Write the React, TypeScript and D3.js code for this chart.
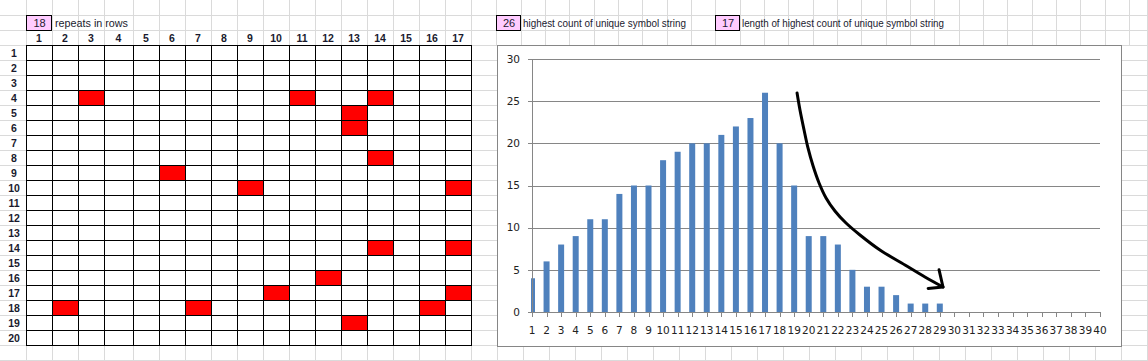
import React from 'react';
import * as d3 from 'd3';

// ---------- DATA ----------
const repeatCells: [number, number][] = [
  [4, 3], [4, 11], [4, 14], [5, 13], [6, 13], [8, 14], [9, 6], [10, 9], [10, 17],
  [14, 14], [14, 17], [16, 12], [17, 10], [17, 17], [18, 2], [18, 7], [18, 16], [19, 13],
];
const gridRowLabels = [1, 2, 3, 4, 5, 6, 7, 8, 9, 10, 11, 12, 13, 14, 15, 16, 17, 18, 19, 20];
const gridColLabels = [1, 2, 3, 4, 5, 6, 7, 8, 9, 10, 11, 12, 13, 14, 15, 16, 17];
const categories = [1, 2, 3, 4, 5, 6, 7, 8, 9, 10, 11, 12, 13, 14, 15, 16, 17, 18, 19, 20,
  21, 22, 23, 24, 25, 26, 27, 28, 29, 30, 31, 32, 33, 34, 35, 36, 37, 38, 39, 40];
const counts = [4, 6, 8, 9, 11, 11, 14, 15, 15, 18, 19, 20, 20, 21, 22, 23, 26, 20, 15, 9,
  9, 8, 5, 3, 3, 2, 1, 1, 1, 0, 0, 0, 0, 0, 0, 0, 0, 0, 0, 0];
const yTicks = [0, 5, 10, 15, 20, 25, 30];
// hand-drawn arrow annotation, in data coordinates (category, value)
const arrowCurve: [number, number][] = [
  [19.2, 25.97], [19.4, 23.95], [19.68, 21.58], [19.95, 19.45], [20.3, 17.31], [20.71, 15.3],
  [21.19, 13.52], [21.8, 11.98], [22.56, 10.55], [23.52, 9.13], [24.89, 7.35], [26.61, 5.57],
  [27.98, 4.15], [29.22, 2.96],
];
const arrowHead: [number, number][] = [[28.95, 5.0], [29.22, 2.96], [28.2, 2.8]];

// ---------- LAYOUT ----------
const W = 1148, H = 361;
const ROW_H = 15;
const TABLE_X0 = 26, TABLE_Y0 = 45;
const colWidth = (c: number) => (c === 4 ? 29 : 26);
const colEdges: number[] = [TABLE_X0];
gridColLabels.forEach((c) => colEdges.push(colEdges[colEdges.length - 1] + colWidth(c)));
const TABLE_X1 = colEdges[colEdges.length - 1];
const TABLE_Y1 = TABLE_Y0 + gridRowLabels.length * ROW_H;

const CHART = { x0: 497, y0: 45, x1: 1121, y1: 346 };
const PLOT = { x0: 532, x1: 1100, y0: 59, y1: 312 };

const SHEET_GRID = '#dadada';
const AXIS = '#868686';
const BAR = '#4F81BD';
const PINK = '#FFCCFF';
const TXT = '#1a1a2e';
const SHEET_FONT = '"Liberation Sans", Arial, sans-serif';
const CHART_FONT = '"DejaVu Sans", Verdana, sans-serif';

export default function App() {
  const x = d3.scaleLinear().domain([1, 40]).range([PLOT.x0, PLOT.x1]);
  const y = d3.scaleLinear().domain([0, 30]).range([PLOT.y1, PLOT.y0]);
  const barW = 6;

  const maxCount = d3.max(counts) as number;
  const maxLen = categories[counts.indexOf(maxCount)];

  const curve = d3.line<[number, number]>()
    .x((d) => x(d[0]))
    .y((d) => y(d[1]))
    .curve(d3.curveCatmullRom.alpha(0.5));
  const straight = d3.line<[number, number]>().x((d) => x(d[0])).y((d) => y(d[1]));

  const hLines = d3.range(ROW_H, H + 1, ROW_H);
  const topRightV = d3.range(496.3, W, 24.33);
  const bottomRightV = d3.range(497, W, 26);

  const cellX = (c: number) => colEdges[c - 1];
  const cellY = (r: number) => TABLE_Y0 + (r - 1) * ROW_H;

  return (
    <svg width={W} height={H} style={{ position: 'absolute', left: 0, top: 0, background: '#fff' }}>
      <rect x={0} y={0} width={W} height={H} fill="#fff" />
      {/* sheet gridlines */}
      <g stroke={SHEET_GRID} strokeWidth={1} shapeRendering="crispEdges">
        {hLines.map((yy) => (
          <line key={'h' + yy} x1={0} x2={W} y1={yy + 0.5} y2={yy + 0.5} />
        ))}
        {colEdges.map((xx) => (
          <line key={'v' + xx} x1={xx + 0.5} x2={xx + 0.5} y1={0} y2={H} />
        ))}
        {topRightV.map((xx) => (
          <line key={'tr' + xx} x1={Math.round(xx) + 0.5} x2={Math.round(xx) + 0.5} y1={0} y2={45} />
        ))}
        {bottomRightV.map((xx) => (
          <line key={'br' + xx} x1={xx + 0.5} x2={xx + 0.5} y1={346} y2={H} />
        ))}
        <line x1={1147.5} x2={1147.5} y1={0} y2={H} />
      </g>

      {/* top info boxes */}
      <rect x={26.5} y={15.5} width={25} height={15} fill={PINK} stroke="#000" />
      <text x={39.5} y={27} textAnchor="middle" fontFamily={SHEET_FONT} fontSize={11} fill={TXT}>
        {repeatCells.length}
      </text>
      <text x={55} y={27} fontFamily={SHEET_FONT} fontSize={10.5} fill={TXT} textLength={73} lengthAdjust="spacingAndGlyphs">repeats in rows</text>

      <rect x={496.5} y={15.5} width={24} height={15} fill={PINK} stroke="#000" />
      <text x={509} y={27} textAnchor="middle" fontFamily={SHEET_FONT} fontSize={11} fill={TXT}>{maxCount}</text>
      <text x={523} y={27} fontFamily={SHEET_FONT} fontSize={10.5} fill={TXT} textLength={163} lengthAdjust="spacingAndGlyphs">highest count of unique symbol string</text>

      <rect x={715.5} y={15.5} width={24} height={15} fill={PINK} stroke="#000" />
      <text x={728} y={27} textAnchor="middle" fontFamily={SHEET_FONT} fontSize={11} fill={TXT}>{maxLen}</text>
      <text x={742} y={27} fontFamily={SHEET_FONT} fontSize={10.5} fill={TXT} textLength={202} lengthAdjust="spacingAndGlyphs">length of highest count of unique symbol string</text>

      {/* table */}
      <rect x={TABLE_X0} y={TABLE_Y0} width={TABLE_X1 - TABLE_X0} height={TABLE_Y1 - TABLE_Y0} fill="#fff" />
      {repeatCells.map(([r, c]) => (
        <rect key={`r${r}c${c}`} x={cellX(c) + 1} y={cellY(r) + 1} width={colWidth(c) - 1} height={ROW_H - 1} fill="#FF0000" />
      ))}
      <g stroke="#000" strokeWidth={1.2} shapeRendering="crispEdges">
        {d3.range(gridRowLabels.length + 1).map((i) => (
          <line key={'th' + i} x1={TABLE_X0} x2={TABLE_X1 + 1} y1={TABLE_Y0 + i * ROW_H + 0.5} y2={TABLE_Y0 + i * ROW_H + 0.5} />
        ))}
        {colEdges.map((xx) => (
          <line key={'tv' + xx} x1={xx + 0.5} x2={xx + 0.5} y1={TABLE_Y0} y2={TABLE_Y1 + 1} />
        ))}
      </g>
      <g fontFamily={SHEET_FONT} fontSize={10.5} fontWeight="bold" fill={TXT} textAnchor="middle">
        {gridColLabels.map((c) => (
          <text key={'cl' + c} x={cellX(c) + colWidth(c) / 2} y={42}>{c}</text>
        ))}
        {gridRowLabels.map((r) => (
          <text key={'rl' + r} x={14} y={cellY(r) + 11.5}>{r}</text>
        ))}
      </g>

      {/* chart */}
      <rect x={CHART.x0 + 0.5} y={CHART.y0 + 0.5} width={CHART.x1 - CHART.x0} height={CHART.y1 - CHART.y0} fill="#fff" stroke={AXIS} />
      <defs>
        <clipPath id="plotClip">
          <rect x={PLOT.x0 - 1} y={PLOT.y0 - 5} width={PLOT.x1 - PLOT.x0 + 10} height={PLOT.y1 - PLOT.y0 + 5} />
        </clipPath>
      </defs>
      <g stroke={AXIS} strokeWidth={1} shapeRendering="crispEdges">
        {yTicks.filter((t) => t > 0).map((t) => (
          <line key={'g' + t} x1={PLOT.x0} x2={PLOT.x1} y1={Math.round(y(t)) + 0.5} y2={Math.round(y(t)) + 0.5} />
        ))}
      </g>
      <g clipPath="url(#plotClip)">
        {counts.map((v, i) => (
          v > 0 ? (
            <rect key={'b' + i} x={x(categories[i]) - barW / 2} y={y(v)} width={barW} height={y(0) - y(v)} fill={BAR} />
          ) : null
        ))}
      </g>
      <g stroke={AXIS} strokeWidth={1} shapeRendering="crispEdges">
        <line x1={PLOT.x0 + 0.5} x2={PLOT.x0 + 0.5} y1={PLOT.y0} y2={PLOT.y1 + 1} />
        <line x1={PLOT.x0} x2={PLOT.x1 + 1} y1={PLOT.y1 + 0.5} y2={PLOT.y1 + 0.5} />
        {yTicks.map((t) => (
          <line key={'yt' + t} x1={PLOT.x0 - 4} x2={PLOT.x0} y1={Math.round(y(t)) + 0.5} y2={Math.round(y(t)) + 0.5} />
        ))}
        {categories.map((c) => (
          <line key={'xt' + c} x1={Math.round(x(c)) + 0.5} x2={Math.round(x(c)) + 0.5} y1={PLOT.y1} y2={PLOT.y1 + 5} />
        ))}
      </g>
      <g fontFamily={CHART_FONT} fontSize={10.5} fill="#222">
        {yTicks.map((t) => (
          <text key={'yl' + t} x={520} y={y(t)} dy="0.36em" textAnchor="end">{t}</text>
        ))}
        {categories.map((c) => (
          <text key={'xl' + c} x={x(c)} y={334} textAnchor="middle">{c}</text>
        ))}
      </g>

      {/* arrow annotation */}
      <path d={curve(arrowCurve) || ''} fill="none" stroke="#000" strokeWidth={3} strokeLinecap="round" strokeLinejoin="round" />
      <path d={straight(arrowHead) || ''} fill="none" stroke="#000" strokeWidth={3} strokeLinecap="round" strokeLinejoin="round" />
    </svg>
  );
}
